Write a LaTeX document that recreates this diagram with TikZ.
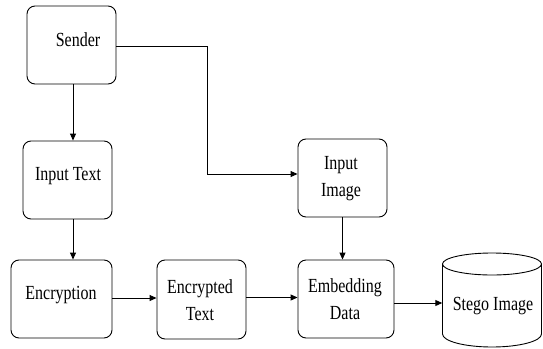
\documentclass[tikz,border=0pt]{standalone}
\usepackage{fontspec}
\newfontfamily\boxfont{Liberation Serif}[FakeStretch=0.8]
\usetikzlibrary{arrows.meta}
\begin{document}
\begin{tikzpicture}[x=1pt,y=-1pt,
  box/.style={draw, line width=0.9pt, rounded corners=8pt, inner sep=0pt},
  txt/.style={align=center, inner sep=0pt, font=\boxfont\fontsize{20}{27}\selectfont},
  arr/.style={-{Triangle[length=7pt,width=6pt]}, line width=0.9pt},
  wire/.style={line width=0.9pt}]
\useasboundingbox (0,0) rectangle (543,348);

% process boxes
\node[box, minimum width=89pt, minimum height=78pt] (sender) at (71.5,45) {};
\node[txt] (sendertxt) at (78,40) {Sender};

\node[box, minimum width=89pt, minimum height=78pt] (intext) at (67.5,180) {};
\node[txt] (intexttxt) at (68,176) {Input Text};

\node[box, minimum width=101pt, minimum height=78pt] (encr) at (61.5,299) {};
\node[txt] (encrtxt) at (61,295) {Encryption};

\node[box, minimum width=89pt, minimum height=79pt] (enct) at (201.5,299.5) {};
\node[txt] (encttxt) at (200,300) {Encrypted\\Text};

\node[box, minimum width=89pt, minimum height=78pt] (inimg) at (342.5,178) {};
\node[txt] (inimgtxt) at (341,179) {Input\\Image};

\node[box, minimum width=96pt, minimum height=78pt] (embed) at (346,299) {};
\node[txt] (embedtxt) at (345,299) {Embedding\\Data};

% storage cylinder
\node[minimum width=99pt, minimum height=94pt, inner sep=0pt] (stego) at (492,300) {};
\draw[wire] (492,264) ellipse [x radius=49.5pt, y radius=11pt];
\draw[wire] (442.5,264) -- (442.5,334) arc [start angle=180, end angle=360, x radius=49.5pt, y radius=13pt] -- (541.5,264);
\node[txt] (stegotxt) at (493,306) {Stego Image};

% connectors
\coordinate (bend1) at (207,46);
\coordinate (bend2) at (207,174);
\draw[arr] ([yshift=-1pt]sender.east) -- (bend1) -- (bend2) -- (bend2 -| inimg.west);
\draw[arr] ([xshift=1.5pt]sender.south) -- ([xshift=1.5pt]sender.south |- intext.north);
\draw[arr] ([xshift=5.5pt]intext.south) -- ([xshift=5.5pt]intext.south |- encr.north);
\draw[arr] ([yshift=1pt]encr.east) -- ([yshift=1pt]encr.east -| enct.west);
\draw[arr] ([yshift=2pt]enct.east) -- ([yshift=2pt]enct.east -| embed.west);
\draw[arr] (inimg.south) -- (inimg.south |- embed.north);
\draw[arr] ([yshift=-4pt]embed.east) -- ([yshift=-4pt]embed.east -| stego.west);
\end{tikzpicture}
\end{document}
